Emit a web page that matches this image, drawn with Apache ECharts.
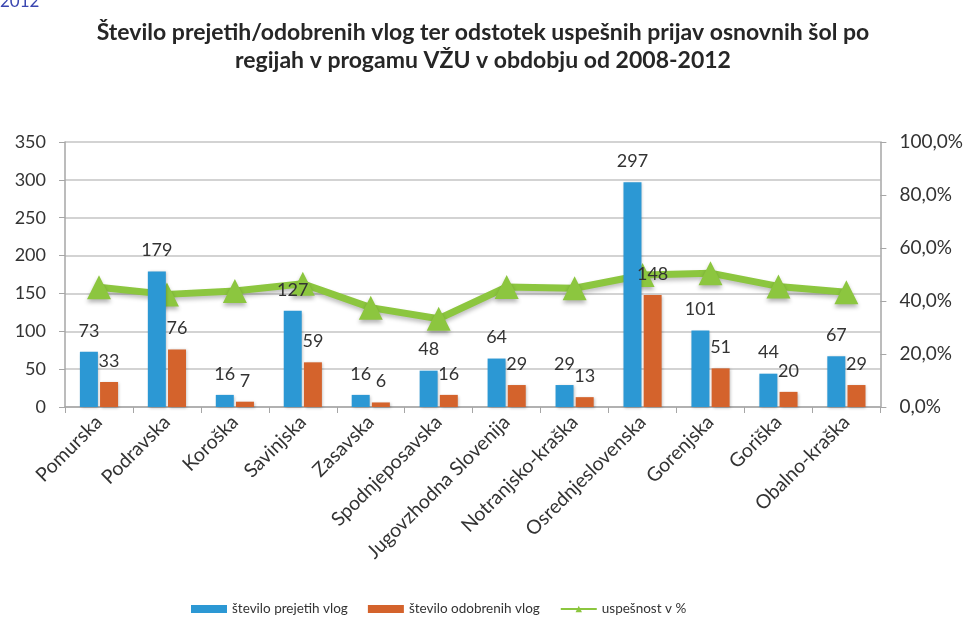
<!DOCTYPE html>
<html>
<head>
<meta charset="utf-8">
<script src="https://cdn.jsdelivr.net/npm/echarts@6/dist/echarts.min.js"></script>
<style>
  html, body { margin: 0; padding: 0; background: #fff; }
  #chart { width: 966px; height: 624px; }
</style>
</head>
<body>
<div id="chart"></div>
<script>
var regions = ['Pomurska', 'Podravska', 'Koroška', 'Savinjska', 'Zasavska', 'Spodnjeposavska',
  'Jugovzhodna Slovenija', 'Notranjsko-kraška', 'Osrednjeslovenska', 'Gorenjska', 'Goriška', 'Obalno-kraška'];
var received = [73, 179, 16, 127, 16, 48, 64, 29, 297, 101, 44, 67];
var approved = [33, 76, 7, 59, 6, 16, 29, 13, 148, 51, 20, 29];
var successPct = [45.2, 42.5, 43.8, 46.5, 37.5, 33.3, 45.3, 44.8, 49.8, 50.5, 45.5, 43.3];

var leftTicks = [0, 50, 100, 150, 200, 250, 300, 350];
var rightTicks = [0, 20, 40, 60, 80, 100];

var chartDom = document.getElementById('chart');
var myChart = echarts.init(chartDom);
var option;

var txt = '#333333';
var font = 'Lato, "Open Sans", sans-serif';

option = {
  animation: false,
  textStyle: { fontFamily: font },
  title: [
    {
      text: 'Število prejetih/odobrenih vlog ter odstotek uspešnih prijav osnovnih šol po',
      left: 'center',
      top: 16,
      textStyle: { fontSize: 23, fontWeight: 'bold', color: '#262626', fontFamily: font }
    },
    {
      text: 'regijah v progamu VŽU v obdobju od 2008-2012',
      left: 'center',
      top: 44,
      textStyle: { fontSize: 23, fontWeight: 'bold', color: '#262626', fontFamily: font }
    },
    {
      text: '2012',
      left: -5,
      top: -12,
      textStyle: { fontSize: 17, fontWeight: 'normal', color: '#3a46b0', fontFamily: font }
    }
  ],
  legend: {
    bottom: 3,
    left: 186,
    itemGap: 20,
    itemWidth: 36,
    itemHeight: 8,
    textStyle: { fontSize: 13.5, color: txt },
    data: [
      { name: 'število prejetih vlog', icon: 'rect' },
      { name: 'število odobrenih vlog', icon: 'rect' },
      { name: 'uspešnost v %' }
    ]
  },
  grid: { left: 65, right: 84, top: 142, bottom: 217 },
  xAxis: {
    type: 'category',
    data: regions,
    axisLine: { lineStyle: { color: '#a6a6a6', width: 1.5 } },
    axisTick: { show: true, length: 6, lineStyle: { color: '#a6a6a6' } },
    axisLabel: { rotate: 45, fontSize: 19.5, color: txt, margin: 12, interval: 0 }
  },
  yAxis: [
    {
      type: 'value',
      min: leftTicks[0],
      max: leftTicks[leftTicks.length - 1],
      interval: 50,
      axisLine: { show: true, lineStyle: { color: '#a6a6a6', width: 1.5 } },
      axisTick: { show: true, length: 6, lineStyle: { color: '#a6a6a6' } },
      axisLabel: { fontSize: 18, color: txt, margin: 19 },
      splitLine: { lineStyle: { color: '#c4c4c4', width: 1.5 } }
    },
    {
      type: 'value',
      min: rightTicks[0],
      max: rightTicks[rightTicks.length - 1],
      interval: 20,
      alignTicks: false,
      axisLine: { show: true, lineStyle: { color: '#a6a6a6', width: 1.5 } },
      axisTick: { show: true, length: 6, lineStyle: { color: '#a6a6a6' } },
      axisLabel: {
        fontSize: 19, color: txt, margin: 19,
        formatter: function (v) { return v.toFixed(1).replace('.', ',') + '%'; }
      },
      splitLine: { show: false }
    }
  ],
  series: [
    {
      name: 'število prejetih vlog',
      type: 'bar',
      data: received,
      barWidth: 18,
      barGap: '12%',
      itemStyle: { color: '#2c98d4', shadowColor: 'rgba(0,0,0,0.25)', shadowBlur: 3, shadowOffsetX: 1, shadowOffsetY: 1 },
      label: { show: true, position: 'top', distance: 12, fontSize: 18, color: txt }
    },
    {
      name: 'število odobrenih vlog',
      type: 'bar',
      data: approved,
      barWidth: 18,
      itemStyle: { color: '#d4632c', shadowColor: 'rgba(0,0,0,0.25)', shadowBlur: 3, shadowOffsetX: 1, shadowOffsetY: 1 },
      label: { show: true, position: 'top', distance: 12, fontSize: 18, color: txt }
    },
    {
      name: 'uspešnost v %',
      type: 'line',
      yAxisIndex: 1,
      data: successPct,
      z: 1,
      symbol: 'triangle',
      symbolSize: 24,
      lineStyle: { color: '#8cc63f', width: 7, shadowColor: 'rgba(0,0,0,0.25)', shadowBlur: 4, shadowOffsetY: 3 },
      itemStyle: { color: '#8cc63f', shadowColor: 'rgba(0,0,0,0.3)', shadowBlur: 4, shadowOffsetY: 3 }
    }
  ]
};

if (option && typeof option === 'object') {
  myChart.setOption(option);
}
</script>
</body>
</html>
